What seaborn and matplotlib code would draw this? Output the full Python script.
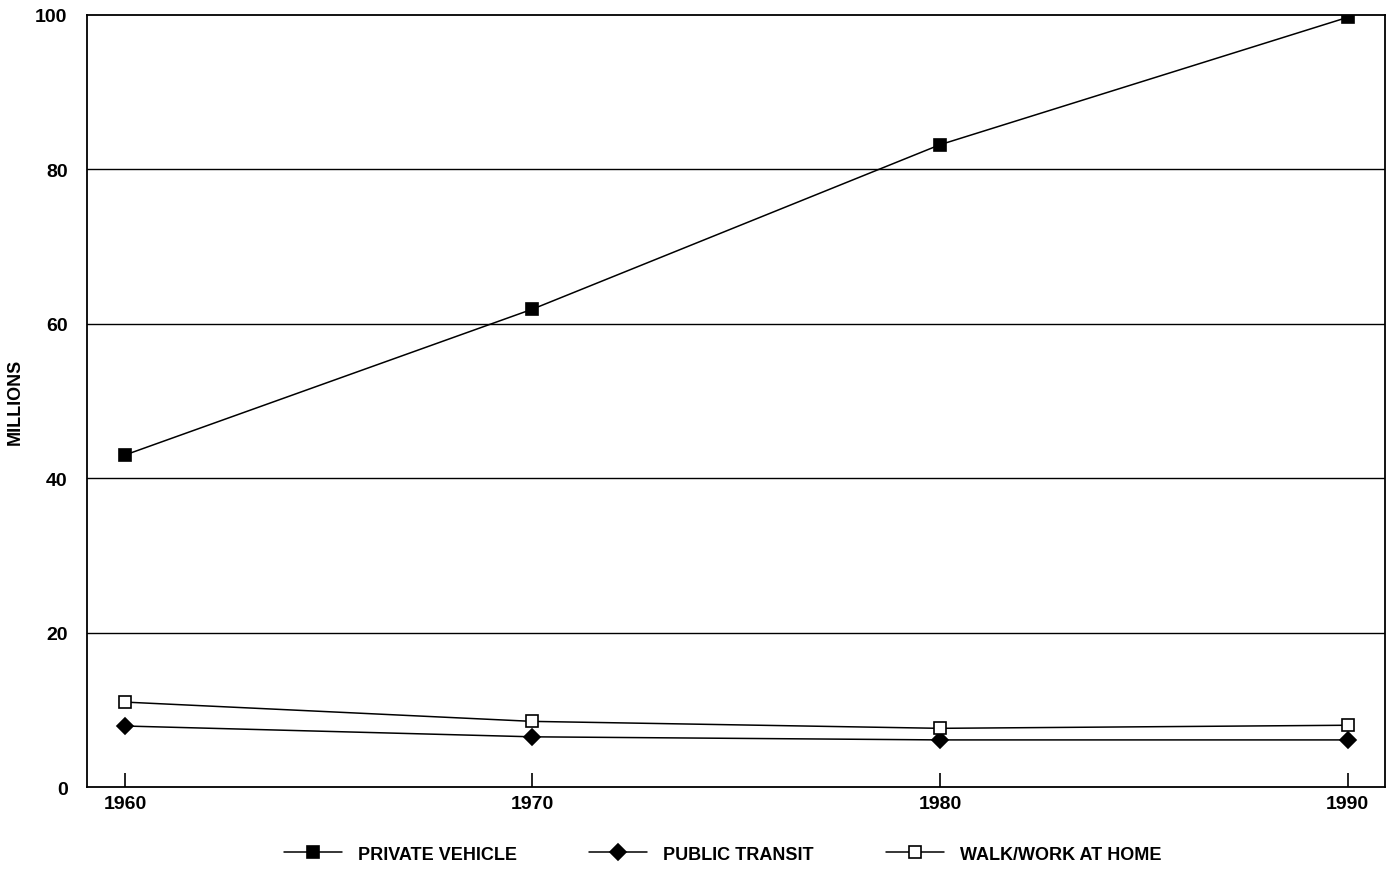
"""Commuters by means of transportation, 1960-1990."""
import pandas as pd
import seaborn as sns
import matplotlib.pyplot as plt

years = [1960, 1970, 1980, 1990]
private_vehicle = [43.0, 61.9, 83.2, 99.7]
public_transit = [7.9, 6.5, 6.1, 6.1]
walk_work_home = [11.0, 8.5, 7.6, 8.0]
series_names = ["PRIVATE VEHICLE", "PUBLIC TRANSIT", "WALK/WORK AT HOME"]

rows = []
for name, vals in zip(series_names, [private_vehicle, public_transit, walk_work_home]):
    for y, v in zip(years, vals):
        rows.append({"year": y, "value": v, "series": name})
df = pd.DataFrame(rows)

sns.set_style("white", {"text.color": "black", "axes.labelcolor": "black",
                        "xtick.color": "black", "ytick.color": "black"})
plt.rcParams["font.family"] = ["Liberation Sans", "DejaVu Sans"]

fig = plt.figure(figsize=(13.96, 8.78), dpi=100)
ax = fig.add_axes([0.0623, 0.1025, 0.9297, 0.8793])

markers = {"PRIVATE VEHICLE": "s", "PUBLIC TRANSIT": "D", "WALK/WORK AT HOME": "s"}
for name in series_names:
    sub = df[df["series"] == name]
    face = "white" if name == "WALK/WORK AT HOME" else "black"
    size = 8 if name == "PUBLIC TRANSIT" else 9
    sns.lineplot(data=sub, x="year", y="value", ax=ax, color="black", lw=1.1,
                 marker=markers[name], markersize=size, markerfacecolor=face,
                 markeredgecolor="black", markeredgewidth=1.2, label=name)

ax.set_xlim(1959.07, 1990.91)
ax.set_ylim(0, 100)
ax.set_yticks([0, 20, 40, 60, 80, 100])
ax.set_xticks(years)
for g in [20, 40, 60, 80]:
    ax.axhline(g, color="black", lw=1.0, zorder=0)
for s in ax.spines.values():
    s.set_color("black")
    s.set_linewidth(1.3)
ax.tick_params(axis="x", bottom=True, direction="in", length=10, width=1.2,
               color="black", labelcolor="black", pad=6, labelsize=14)
ax.tick_params(axis="y", length=0, pad=14, labelsize=14, labelcolor="black")
for lbl in ax.get_xticklabels() + ax.get_yticklabels():
    lbl.set_fontweight("bold")
ax.set_xlabel("")
ax.set_ylabel("MILLIONS", fontsize=13, fontweight="bold", labelpad=8, color="black")

leg = ax.legend(loc="upper center", bbox_to_anchor=(0.49, -0.055), ncol=3, frameon=False,
                prop={"size": 13, "weight": "bold"}, handlelength=3.2, columnspacing=4.0,
                handletextpad=0.9)
for t in leg.get_texts():
    t.set_color("black")

fig.savefig("out.png", dpi=100)
